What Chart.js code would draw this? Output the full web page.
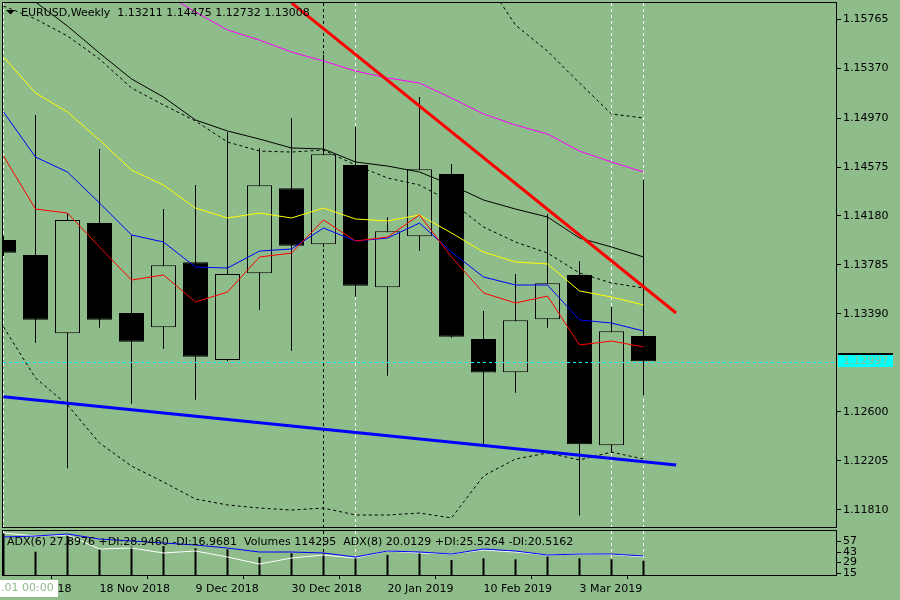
<!DOCTYPE html>
<html>
<head>
<meta charset="utf-8">
<script src="https://cdn.jsdelivr.net/npm/chart.js@4.4.1/dist/chart.umd.min.js"></script>
<style>
  html, body { margin: 0; padding: 0; background: #8fbc8b; }
  #wrap { position: relative; width: 900px; height: 600px; overflow: hidden; }
  canvas { position: absolute; left: 0; }
  #main { top: 0; }
  #sub { top: 530px; }
</style>
</head>
<body>
<div id="wrap">
  <canvas id="main" width="900" height="530"></canvas>
  <canvas id="sub" width="900" height="70"></canvas>
</div>
<script>
const BG = '#8fbc8b';

// weekly bars, EURUSD
const weeks = ['2018-10-28','2018-11-04','2018-11-11','2018-11-18','2018-11-25','2018-12-02','2018-12-09',
  '2018-12-16','2018-12-23','2018-12-30','2019-01-06','2019-01-13','2019-01-20','2019-01-27','2019-02-03',
  '2019-02-10','2019-02-17','2019-02-24','2019-03-03','2019-03-10','2019-03-17'];
const opens  = [1.13986,1.13865,1.13233,1.14124,1.13397,1.13282,1.13806,1.13018,1.13718,1.14404,1.13952,
  1.14592,1.13605,1.14016,1.14519,1.13187,1.12919,1.13346,1.13704,1.12330,1.13211];
const highs  = [1.14019,1.14995,1.14202,1.14721,1.14027,1.14237,1.14430,1.14856,1.14726,1.14969,1.15479,
  1.14901,1.14170,1.15140,1.14600,1.13413,1.13712,1.14196,1.13815,1.13446,1.14475];
const lows   = [1.13857,1.13158,1.12144,1.13279,1.12665,1.13109,1.12698,1.13010,1.13424,1.13093,1.13930,
  1.13529,1.12891,1.13900,1.13198,1.12332,1.12754,1.13279,1.11762,1.12268,1.12732];
const closes = [1.13884,1.13343,1.14148,1.13343,1.13166,1.13782,1.13045,1.13712,1.14428,1.13940,1.14678,
  1.13618,1.14057,1.14557,1.13206,1.12916,1.13338,1.13637,1.12338,1.13250,1.13008];

// moving averages / bands
const maRed     = [1.14664,1.14236,1.14204,1.13930,1.13663,1.13704,1.13486,1.13567,1.13849,1.13881,1.14148,
  1.13978,1.14010,1.14188,1.13849,1.13559,1.13478,1.13534,1.13139,1.13171,1.13123];
const maBlue    = [1.15019,1.14656,1.14535,1.14285,1.14027,1.13970,1.13768,1.13760,1.13897,1.13914,1.14083,
  1.13978,1.14002,1.14123,1.13889,1.13688,1.13623,1.13623,1.13341,1.13316,1.13252];
const maYellow  = [1.15463,1.15173,1.15019,1.14793,1.14551,1.14430,1.14244,1.14164,1.14204,1.14164,1.14244,
  1.14156,1.14140,1.14188,1.14043,1.13889,1.13809,1.13793,1.13575,1.13526,1.13462];
const maMagenta = [null,null,null,null,null,1.15980,1.15826,1.15681,1.15600,1.15503,1.15431,
  1.15350,1.15294,1.15253,1.15132,1.15003,1.14914,1.14842,1.14704,1.14616,1.14535];
const maBlack   = [1.16101,1.15907,1.15713,1.15495,1.15286,1.15140,1.14955,1.14866,1.14801,1.14729,1.14721,
  1.14616,1.14583,1.14535,1.14430,1.14309,1.14236,1.14172,1.14002,1.13930,1.13849];
const maBlackDot = [1.15875,1.15770,1.15633,1.15447,1.15213,1.15076,1.14947,1.14777,1.14704,1.14696,1.14713,
  1.14591,1.14487,1.14430,1.14293,1.14091,1.13970,1.13881,1.13720,1.13639,1.13599];
const bandUpper = [null,null,null,null,null,null,null,null,null,null,null,
  null,null,null,null,1.16109,1.15721,1.15511,1.15253,1.15003,1.14971];
const bandLower = [1.13284,1.12873,1.12655,1.12348,1.12162,1.12033,1.11896,1.11848,1.11823,1.11807,1.11823,
  1.11767,1.11767,1.11783,1.11743,1.12082,1.12219,1.12267,1.12211,1.12275,1.12219];

// trend lines: [bar, price]
const redTrend  = [[9.0, 1.15900], [21.02, 1.13397]];
const blueTrend = [[0, 1.12722], [21.02, 1.12170]];
const bidPrice = 1.12997;

// sub window
const volumes  = [321000,181500,306300,199400,218900,224100,206900,199400,139700,169600,169600,
  139700,156900,174100,119500,132200,124700,144200,132200,124700,114295];
const adxWhite = [68.3,64.3,65.7,47,48.3,41.7,44.3,36.3,27,35,39,35,44.3,41.7,40.3,45.7,43,39,40.3,39.7,36.7];
const adxBlue  = [63,64.3,67,60.3,57.7,55,52.3,48.3,43,43,41.7,36.3,44.3,43,40.3,47,44.3,39,40.3,40.3,37.7];

const priceTicks = [1.15765,1.15370,1.14970,1.14575,1.14180,1.13785,1.13390,1.12600,1.12205,1.11810];
const adxTicks = [15, 29, 43, 57];
const tickWeeks = [0, 3, 6, 9, 12, 15, 18];
const tickLabels = ['28 Oct 2018','18 Nov 2018','9 Dec 2018','30 Dec 2018','20 Jan 2019','10 Feb 2019','3 Mar 2019'];
const whiteMarks = [0, 11, 19, 20];
const blackMarks = [10];

const header = 'EURUSD,Weekly  1.13211 1.14475 1.12732 1.13008';
const subHeader = 'ADX(6) 27.8976 +DI:28.9460 -DI:16.9681  Volumes 114295  ADX(8) 20.0129 +DI:25.5264 -DI:20.5162';

Chart.defaults.font.family = 'DejaVu Sans';
Chart.defaults.font.size = 11;
Chart.defaults.color = '#000';

const xMin = -1 / 64;
const xMax = xMin + 834 / 32;

function lineSet(values, color, width, dash, order, axis) {
  return {
    type: 'line',
    data: values.map((v, i) => ({ x: i, y: v })).filter(p => p.y !== null),
    borderColor: color, borderWidth: width, borderDash: dash || [],
    pointRadius: 0, fill: false, tension: 0, order: order, clip: 0,
    yAxisID: axis || 'y'
  };
}

function trendSet(points, color, order) {
  return {
    type: 'line',
    data: points.map(p => ({ x: p[0], y: p[1] })),
    borderColor: color, borderWidth: 3, pointRadius: 0, fill: false, order: order, clip: 0
  };
}

function noPad(s) {
  s.paddingTop = 0; s.paddingBottom = 0; s.paddingLeft = 0; s.paddingRight = 0;
}

function drawMarks(chart) {
  const { ctx, chartArea: a, scales: { x } } = chart;
  ctx.save();
  ctx.lineWidth = 1;
  ctx.setLineDash([3, 3]);
  [[whiteMarks, '#fff'], [blackMarks, '#000']].forEach(([list, col]) => {
    ctx.strokeStyle = col;
    list.forEach(k => {
      const px = Math.floor(x.getPixelForValue(k)) + 0.5;
      ctx.beginPath();
      ctx.moveTo(px, a.top);
      ctx.lineTo(px, a.bottom);
      ctx.stroke();
    });
  });
  ctx.restore();
}

function fillBg(chart) {
  const ctx = chart.ctx;
  ctx.save();
  ctx.fillStyle = BG;
  ctx.fillRect(0, 0, chart.width, chart.height);
  ctx.restore();
}

function drawFrame(chart) {
  const { ctx, chartArea: a } = chart;
  ctx.save();
  ctx.strokeStyle = '#000';
  ctx.lineWidth = 1;
  ctx.setLineDash([]);
  ctx.strokeRect(a.left - 0.5, a.top - 0.5, a.right - a.left, a.bottom - a.top);
  ctx.restore();
}

const mainDecor = {
  id: 'mainDecor',
  beforeDraw: fillBg,
  beforeDatasetsDraw: drawMarks,
  afterDraw(chart) {
    const { ctx, chartArea: a, scales: { y } } = chart;
    const ly = Math.floor(y.getPixelForValue(bidPrice)) + 0.5;
    ctx.save();
    ctx.strokeStyle = '#00ffff';
    ctx.lineWidth = 1;
    ctx.setLineDash([3, 3]);
    ctx.beginPath();
    ctx.moveTo(a.left, ly);
    ctx.lineTo(a.right, ly);
    ctx.stroke();
    ctx.setLineDash([]);
    drawFrame(chart);
    // bid label
    ctx.fillStyle = '#00ffff';
    ctx.fillRect(838, ly - 8.5, 55, 13);
    ctx.fillStyle = '#000';
    ctx.fillRect(838, ly - 9.5, 55, 2);
    ctx.fillStyle = BG;
    ctx.font = '11px "DejaVu Sans"';
    ctx.textBaseline = 'middle';
    ctx.fillText(bidPrice.toFixed(5), 843, ly - 1.5);
    // header
    ctx.fillStyle = '#000';
    ctx.beginPath();
    ctx.moveTo(6, 10);
    ctx.lineTo(15, 10);
    ctx.lineTo(10.5, 14.5);
    ctx.closePath();
    ctx.fill();
    ctx.fillText(header, 21, 13);
    ctx.restore();
  }
};

const subDecor = {
  id: 'subDecor',
  beforeDraw: fillBg,
  beforeDatasetsDraw: drawMarks,
  afterDraw(chart) {
    const { ctx, chartArea: a } = chart;
    drawFrame(chart);
    ctx.save();
    // clip the lowest scale label at the window edge
    ctx.fillStyle = BG;
    ctx.fillRect(a.right + 1, a.bottom, chart.width - a.right, chart.height - a.bottom);
    ctx.font = '11px "DejaVu Sans"';
    ctx.textBaseline = 'middle';
    ctx.fillStyle = '#000';
    ctx.fillText(subHeader, 7, 12);
    // crosshair time label
    ctx.fillStyle = '#fff';
    ctx.fillRect(0, 50, 58, 17);
    ctx.fillStyle = BG;
    ctx.fillText('.01 00:00', 1, 58.5);
    ctx.restore();
  }
};

const xScale = (show) => ({
  type: 'linear', min: xMin, max: xMax, offset: false, display: show,
  grid: { display: show, drawOnChartArea: false, drawTicks: true, tickLength: 3, color: '#000' },
  border: { display: false },
  afterBuildTicks: (s) => { s.ticks = tickWeeks.map(v => ({ value: v })); },
  afterFit: (s) => { noPad(s); if (show) s.height = 24; },
  ticks: {
    autoSkip: false, maxRotation: 0, align: 'start', padding: 4,
    callback: (v, i) => tickLabels[i]
  }
});

new Chart(document.getElementById('main'), {
  type: 'bar',
  data: {
    datasets: [
      {
        type: 'bar', data: weeks.map((w, i) => ({ x: i, y: [lows[i], highs[i]] })),
        backgroundColor: '#000', borderWidth: 0, barThickness: 1, grouped: false,
        inflateAmount: 0, order: 20, clip: 0
      },
      {
        type: 'bar', data: weeks.map((w, i) => ({ x: i, y: [opens[i], closes[i]] })),
        backgroundColor: weeks.map((w, i) => closes[i] < opens[i] ? '#000' : BG),
        borderColor: '#000', borderWidth: 1, borderSkipped: false, barThickness: 25,
        grouped: false, inflateAmount: 0, order: 19, clip: 0
      },
      lineSet(bandUpper, '#000', 1, [3, 3], 9),
      lineSet(bandLower, '#000', 1, [3, 3], 9),
      lineSet(maBlackDot, '#000', 1, [3, 3], 8),
      lineSet(maBlack, '#000', 1, null, 7),
      lineSet(maMagenta, '#ff00ff', 1, null, 6),
      lineSet(maYellow, '#ffff00', 1, null, 5),
      lineSet(maBlue, '#0000ff', 1, null, 4),
      lineSet(maRed, '#ff0000', 1, null, 3),
      trendSet(blueTrend, '#0000ff', 2),
      trendSet(redTrend, '#ff0000', 1)
    ]
  },
  options: {
    responsive: false, animation: false, devicePixelRatio: 1, events: [],
    layout: { padding: { left: 3, top: 3, right: 0, bottom: 2 } },
    plugins: { legend: { display: false }, tooltip: { enabled: false } },
    scales: {
      x: xScale(false),
      y: {
        type: 'linear', position: 'right', min: 1.11662, max: 1.15899,
        grid: { drawOnChartArea: false, drawTicks: true, tickLength: 4, color: '#000' },
        border: { display: false },
        afterBuildTicks: (s) => { s.ticks = priceTicks.map(v => ({ value: v })); },
        afterFit: (s) => { noPad(s); s.width = 63; },
        ticks: { autoSkip: false, padding: 2, callback: (v) => v.toFixed(5) }
      }
    }
  },
  plugins: [mainDecor]
});

new Chart(document.getElementById('sub'), {
  type: 'bar',
  data: {
    datasets: [
      {
        type: 'bar', data: volumes.map((v, i) => ({ x: i, y: v })), yAxisID: 'vol',
        backgroundColor: '#000', borderWidth: 0, barThickness: 2, inflateAmount: 0,
        grouped: false, order: 10, clip: 0
      },
      lineSet(adxWhite, '#ffffff', 1, null, 2),
      lineSet(adxBlue, '#0000ff', 1, null, 1)
    ]
  },
  options: {
    responsive: false, animation: false, devicePixelRatio: 1, events: [],
    layout: { padding: { left: 3, top: 1, right: 0, bottom: 0 } },
    plugins: { legend: { display: false }, tooltip: { enabled: false } },
    scales: {
      x: xScale(true),
      y: {
        type: 'linear', position: 'right', min: 11, max: 71,
        grid: { drawOnChartArea: false, drawTicks: true, tickLength: 4, color: '#000' },
        border: { display: false },
        afterBuildTicks: (s) => { s.ticks = adxTicks.map(v => ({ value: v })); },
        afterFit: (s) => { noPad(s); s.width = 63; },
        ticks: { autoSkip: false, padding: 2 }
      },
      vol: { type: 'linear', display: false, min: 0, max: 336000 }
    }
  },
  plugins: [subDecor]
});
</script>
</body>
</html>
